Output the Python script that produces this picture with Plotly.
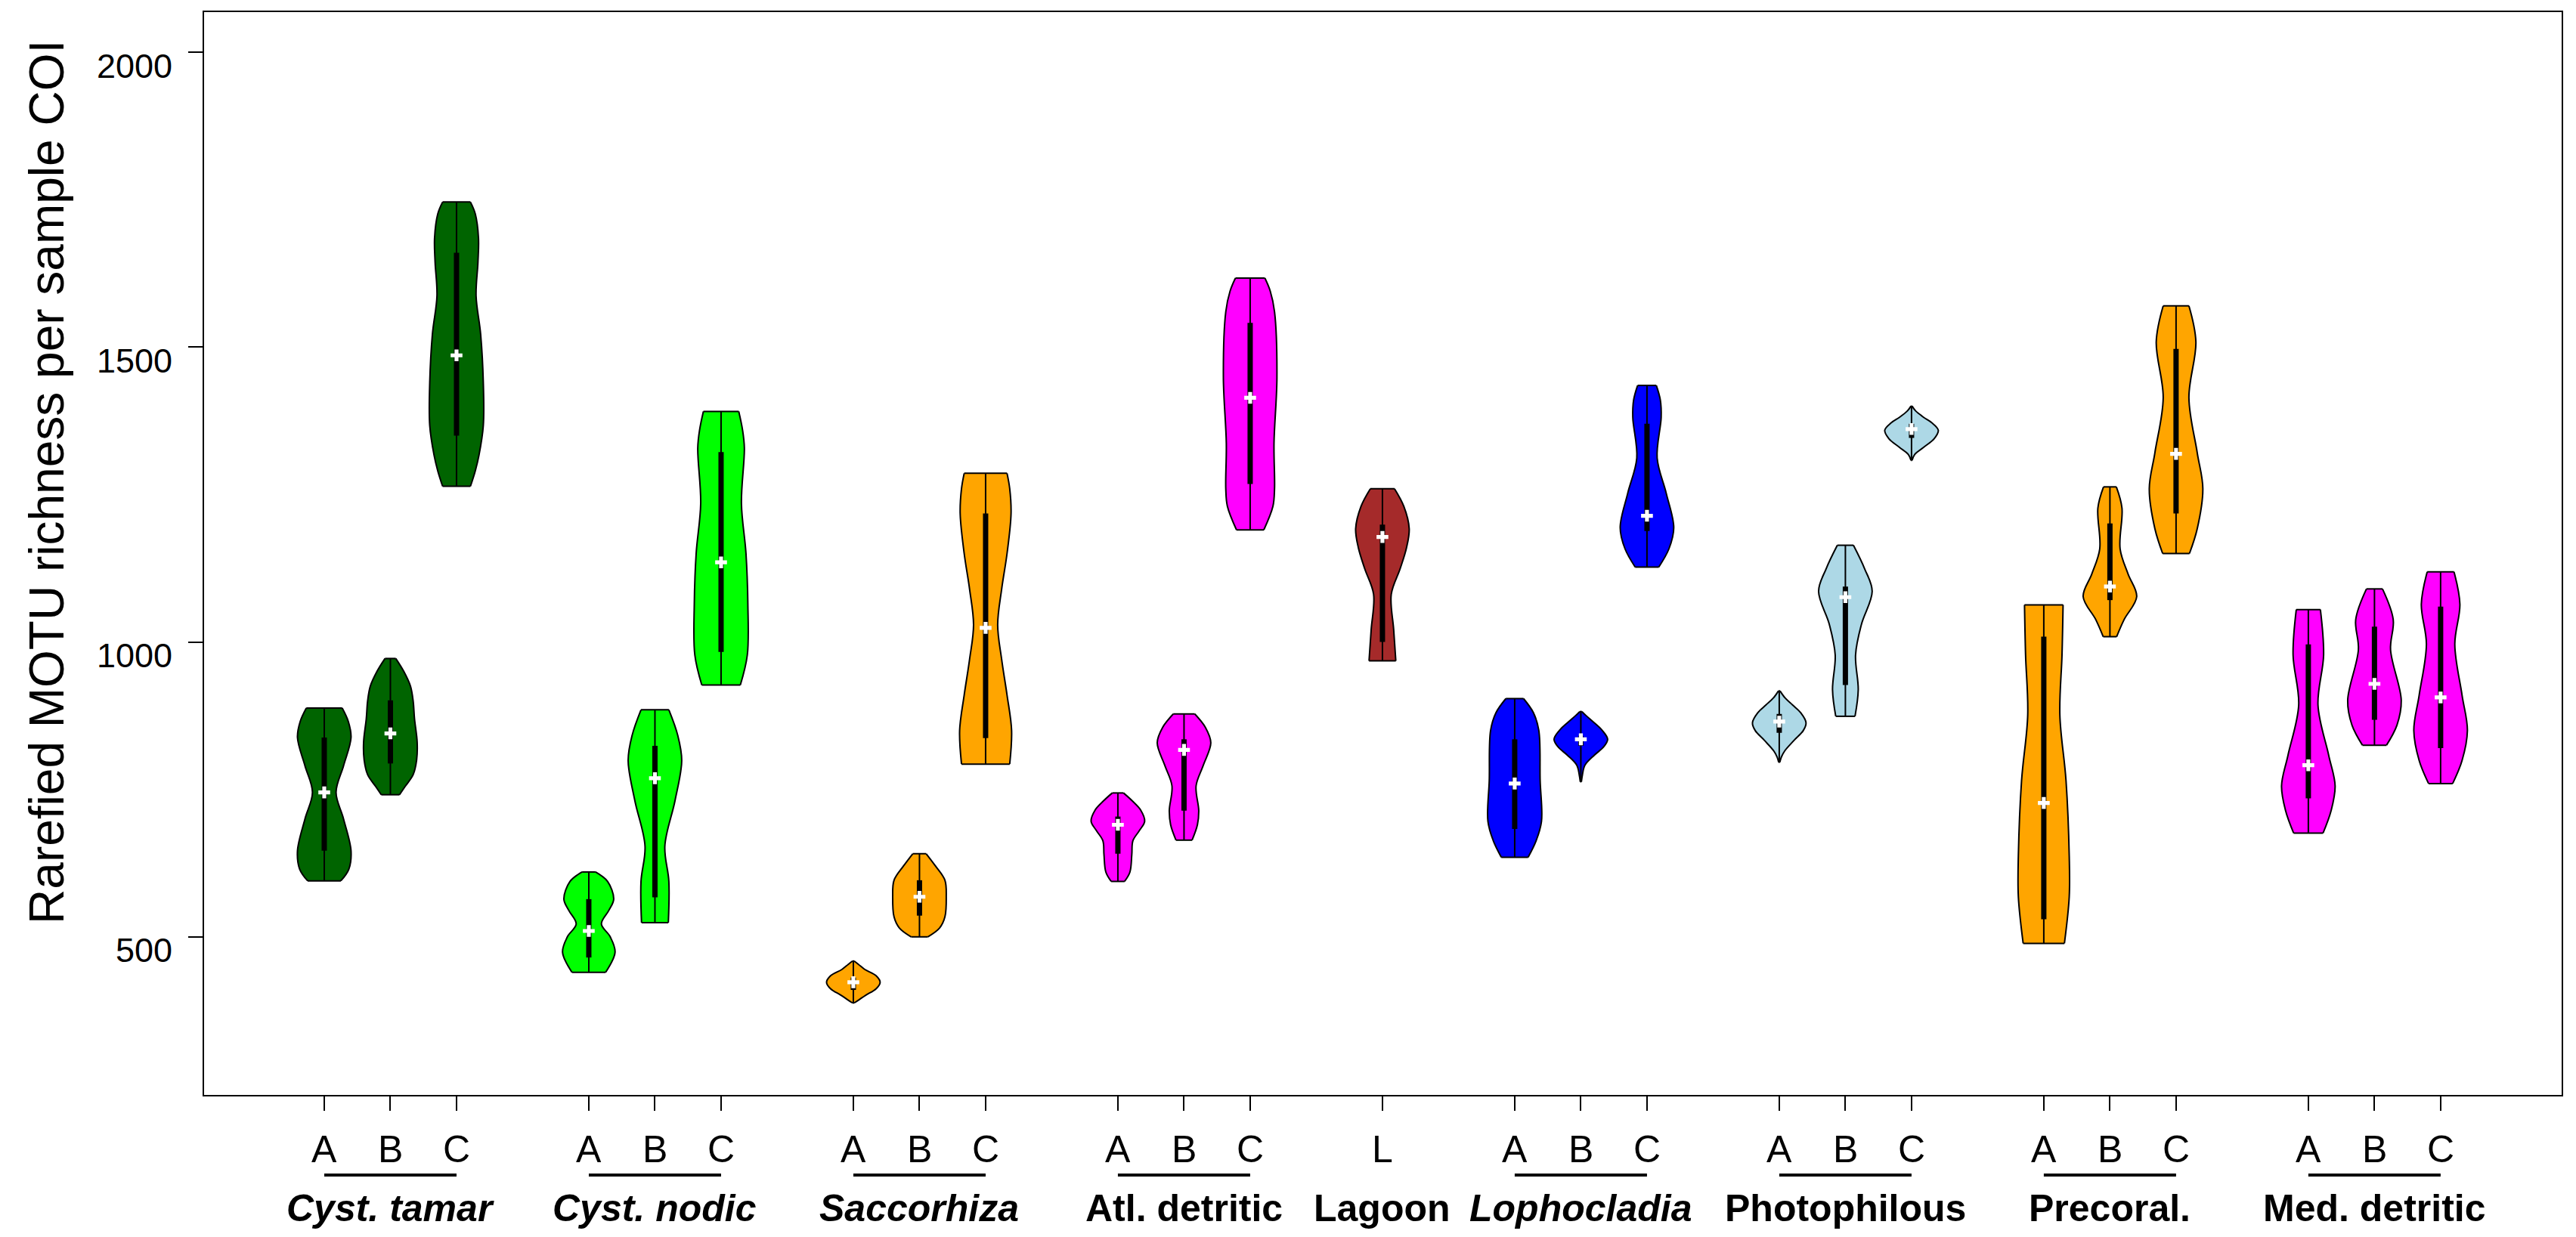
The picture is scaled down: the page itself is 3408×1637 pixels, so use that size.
import plotly.graph_objects as go

# ---- categories and layout of the x axis ----
positions = [1, 2, 3, 5, 6, 7, 9, 10, 11, 13, 14, 15, 17,
             19, 20, 21, 23, 24, 25, 27, 28, 29, 31, 32, 33]
tick_letters = ["A", "B", "C", "A", "B", "C", "A", "B", "C", "A", "B", "C", "L",
                "A", "B", "C", "A", "B", "C", "A", "B", "C", "A", "B", "C"]

group_names = ["<b><i>Cyst. tamar</i></b>", "<b><i>Cyst. nodic</i></b>",
               "<b><i>Saccorhiza</i></b>", "<b>Atl. detritic</b>", "<b>Lagoon</b>",
               "<b><i>Lophocladia</i></b>", "<b>Photophilous</b>",
               "<b>Precoral.</b>", "<b>Med. detritic</b>"]
group_centers = [2, 6, 10, 14, 17, 20, 24, 28, 32]
underline_start = [1, 5, 9, 13, 19, 23, 27, 31]
underline_end = [3, 7, 11, 15, 21, 25, 29, 33]

fill_colors = ["#006400"] * 3 + ["#00FF00"] * 3 + ["#FFA500"] * 3 + ["#FF00FF"] * 3 + \
              ["#A52A2A"] + ["#0000FF"] * 3 + ["#ADD8E6"] * 3 + ["#FFA500"] * 3 + ["#FF00FF"] * 3

# ---- violin outlines: richness levels (bottom -> top) and relative half-widths ----
levels = [
    [595, 615, 646, 700, 745, 790, 838, 865, 888],            # Cyst. tamar A
    [741, 755, 775, 800, 830, 870, 900, 925, 950, 972],       # Cyst. tamar B
    [1264, 1290, 1317, 1367, 1440, 1522, 1587, 1644, 1685, 1726, 1746],  # Cyst. tamar C
    [440, 474, 500, 522, 545, 564, 594, 610],                 # Cyst. nodic A
    [524, 594, 654, 731, 799, 842, 885],                      # Cyst. nodic B
    [927, 978, 1064, 1150, 1235, 1329, 1360, 1391],           # Cyst. nodic C
    [388, 393, 401, 412, 423, 434, 445, 453, 459],            # Saccorhiza A
    [500, 515, 534, 568, 596, 620, 641],                      # Saccorhiza B
    [793, 850, 910, 970, 1029, 1090, 1150, 1218, 1260, 1286], # Saccorhiza C
    [594, 610, 640, 663, 680, 696, 715, 730, 744],            # Atl. detritic A
    [664, 690, 714, 756, 791, 829, 855, 878],                 # Atl. detritic B
    [1190, 1230, 1260, 1337, 1449, 1560, 1595, 1617],         # Atl. detritic C
    [968, 1021, 1081, 1124, 1160, 1192, 1230, 1260],          # Lagoon L
    [635, 663, 696, 765, 850, 880, 904],                      # Lophocladia A
    [763, 775, 791, 808, 822, 835, 850, 863, 875, 882],       # Lophocladia B
    [1127, 1158, 1194, 1252, 1312, 1381, 1410, 1435],         # Lophocladia C
    [796, 805, 815, 833, 850, 863, 880, 893, 905, 917],       # Photophilous A
    [874, 919, 978, 1030, 1086, 1124, 1164],                  # Photophilous B
    [1308, 1318, 1330, 1345, 1359, 1372, 1381, 1392, 1400],   # Photophilous C
    [489, 568, 637, 765, 876, 978, 1063],                     # Precoral. A
    [1009, 1038, 1077, 1115, 1158, 1227, 1263],               # Precoral. B
    [1150, 1192, 1260, 1321, 1414, 1509, 1570],               # Precoral. C
    [676, 714, 756, 808, 893, 978, 1055],                     # Med. detritic A
    [825, 859, 901, 987, 1038, 1090],                         # Med. detritic B
    [760, 799, 850, 910, 996, 1064, 1119],                    # Med. detritic C
]
widths = [
    [0.62, 0.92, 1.0, 0.72, 0.44, 0.72, 1.0, 0.9, 0.67],
    [0.34, 0.55, 0.85, 0.98, 1.0, 0.9, 0.85, 0.75, 0.5, 0.2],
    [0.52, 0.7, 0.84, 1.0, 1.0, 0.9, 0.73, 0.8, 0.82, 0.7, 0.52],
    [0.63, 0.98, 0.8, 0.47, 0.75, 0.93, 0.7, 0.25],
    [0.5, 0.52, 0.37, 0.75, 1.0, 0.85, 0.52],
    [0.72, 0.98, 1.0, 0.93, 0.76, 0.87, 0.8, 0.66],
    [0.03, 0.2, 0.46, 0.85, 1.0, 0.85, 0.42, 0.2, 0.03],
    [0.31, 0.75, 0.95, 1.0, 0.95, 0.6, 0.25],
    [0.9, 0.97, 0.8, 0.6, 0.45, 0.6, 0.8, 0.95, 0.9, 0.8],
    [0.25, 0.45, 0.52, 0.56, 0.8, 1.0, 0.85, 0.55, 0.21],
    [0.3, 0.5, 0.55, 0.45, 0.72, 1.0, 0.8, 0.4],
    [0.51, 0.85, 0.91, 0.89, 1.0, 0.91, 0.75, 0.55],
    [0.5, 0.42, 0.33, 0.66, 0.9, 1.0, 0.8, 0.45],
    [0.5, 0.8, 1.0, 0.95, 0.9, 0.7, 0.33],
    [0.02, 0.06, 0.15, 0.5, 0.85, 1.0, 0.8, 0.5, 0.2, 0.04],
    [0.44, 0.82, 1.0, 0.72, 0.38, 0.53, 0.5, 0.35],
    [0.02, 0.08, 0.2, 0.55, 0.9, 1.0, 0.8, 0.5, 0.22, 0.03],
    [0.36, 0.48, 0.38, 0.6, 1.0, 0.72, 0.3],
    [0.02, 0.12, 0.45, 0.85, 1.0, 0.75, 0.45, 0.15, 0.02],
    [0.77, 0.95, 0.95, 0.83, 0.6, 0.68, 0.72],
    [0.25, 0.53, 1.0, 0.68, 0.38, 0.45, 0.24],
    [0.5, 0.79, 1.0, 0.79, 0.48, 0.74, 0.48],
    [0.55, 0.85, 1.0, 0.76, 0.36, 0.57, 0.45],
    [0.45, 0.84, 1.0, 0.6, 0.7, 0.3],
    [0.45, 0.8, 1.0, 0.8, 0.53, 0.72, 0.5],
]

# ---- box statistics ----
q1 = [646, 794, 1350, 465, 567, 983, 410, 536, 837, 641, 714, 1268, 1000,
      683, 824, 1188, 846, 927, 1346, 530, 1071, 1218, 735, 868, 820]
medians = [745, 845, 1486, 510, 769, 1135, 423, 568, 1024, 690, 817, 1414, 1178,
           760, 835, 1214, 865, 1076, 1361, 727, 1094, 1319, 791, 929, 906]
q3 = [838, 901, 1660, 564, 824, 1322, 431, 596, 1218, 704, 835, 1541, 1199,
      835, 841, 1370, 878, 1094, 1370, 1009, 1201, 1497, 996, 1026, 1060]

y_ticks = [500, 1000, 1500, 2000]

HALF = 0.405  # half-width of the widest part of a violin, in x units
FONT = "Liberation Sans, Arial, sans-serif"

fig = go.Figure()

# filled bodies: left edge, then right edge filled back to it
for p, lv, w, col in zip(positions, levels, widths, fill_colors):
    fig.add_trace(go.Scatter(x=[p - HALF * v for v in w], y=lv, mode="lines",
                             line=dict(width=0, shape="spline"),
                             hoverinfo="skip", showlegend=False))
    fig.add_trace(go.Scatter(x=[p + HALF * v for v in w], y=lv, mode="lines",
                             fill="tonextx", fillcolor=col,
                             line=dict(width=0, shape="spline"),
                             hoverinfo="skip", showlegend=False))

# curved outlines of all violins
ox, oy = [], []
for p, lv, w in zip(positions, levels, widths):
    ox += [p - HALF * v for v in w] + [None] + [p + HALF * v for v in w] + [None]
    oy += list(lv) + [None] + list(lv) + [None]
fig.add_trace(go.Scatter(x=ox, y=oy, mode="lines",
                         line=dict(color="black", width=2, shape="spline"),
                         hoverinfo="skip", showlegend=False))

# flat caps at min and max
cx, cy = [], []
for p, lv, w in zip(positions, levels, widths):
    cx += [p - HALF * w[0], p + HALF * w[0], None, p - HALF * w[-1], p + HALF * w[-1], None]
    cy += [lv[0], lv[0], None, lv[-1], lv[-1], None]
fig.add_trace(go.Scatter(x=cx, y=cy, mode="lines", line=dict(color="black", width=2),
                         hoverinfo="skip", showlegend=False))

# whiskers (full range)
wx, wy = [], []
for p, lv in zip(positions, levels):
    wx += [p, p, None]
    wy += [lv[0], lv[-1], None]
fig.add_trace(go.Scatter(x=wx, y=wy, mode="lines", line=dict(color="black", width=2),
                         hoverinfo="skip", showlegend=False))

# inter-quartile boxes
bx, by = [], []
for p, a, b in zip(positions, q1, q3):
    bx += [p, p, None]
    by += [a, b, None]
fig.add_trace(go.Scatter(x=bx, y=by, mode="lines", line=dict(color="black", width=7),
                         hoverinfo="skip", showlegend=False))

# medians
fig.add_trace(go.Scatter(x=positions, y=medians, mode="markers",
                         marker=dict(symbol="cross", size=13, color="white",
                                     line=dict(width=0)),
                         hoverinfo="skip", showlegend=False))

annotations = []
# y tick labels
for t in y_ticks:
    annotations.append(dict(x=0, xref="paper", y=t, yref="y", text=str(t),
                            showarrow=False, xanchor="right", yanchor="middle",
                            xshift=-40, yshift=-18,
                            font=dict(family=FONT, size=45, color="black")))
# sub-category letters
for p, lab in zip(positions, tick_letters):
    annotations.append(dict(x=p, xref="x", y=0, yref="paper", text=lab,
                            showarrow=False, xanchor="center", yanchor="middle",
                            yshift=-72, font=dict(family=FONT, size=50, color="black")))
# habitat names
for c, name in zip(group_centers, group_names):
    annotations.append(dict(x=c, xref="x", y=0, yref="paper", text=name,
                            showarrow=False, xanchor="center", yanchor="middle",
                            yshift=-150, font=dict(family=FONT, size=50, color="black")))
# y-axis title
annotations.append(dict(x=0, xref="paper", y=0.566, yref="paper",
                        text="Rarefied MOTU richness per sample COI",
                        textangle=-90, showarrow=False, xanchor="center",
                        yanchor="middle", xshift=-208,
                        font=dict(family=FONT, size=64, color="black")))

shapes = []
for a, b in zip(underline_start, underline_end):
    shapes.append(dict(type="line", xref="x", yref="paper", x0=a, x1=b,
                       y0=-0.074, y1=-0.074, line=dict(color="black", width=4)))

fig.update_layout(
    width=3408, height=1637,
    margin=dict(l=270, r=19, t=16, b=188),
    paper_bgcolor="white", plot_bgcolor="white",
    showlegend=False,
    annotations=annotations,
    shapes=shapes,
    xaxis=dict(range=[-0.817, 34.83], tickvals=positions, showticklabels=False,
               ticks="outside", ticklen=19, tickwidth=1.5, tickcolor="black",
               showline=True, linecolor="black", linewidth=2, mirror=True,
               showgrid=False, zeroline=False, fixedrange=True),
    yaxis=dict(range=[231.96, 2068.04], tickvals=y_ticks, showticklabels=False,
               ticks="outside", ticklen=19, tickwidth=1.5, tickcolor="black",
               showline=True, linecolor="black", linewidth=2, mirror=True,
               showgrid=False, zeroline=False, fixedrange=True),
)

fig.write_html("out.html")
